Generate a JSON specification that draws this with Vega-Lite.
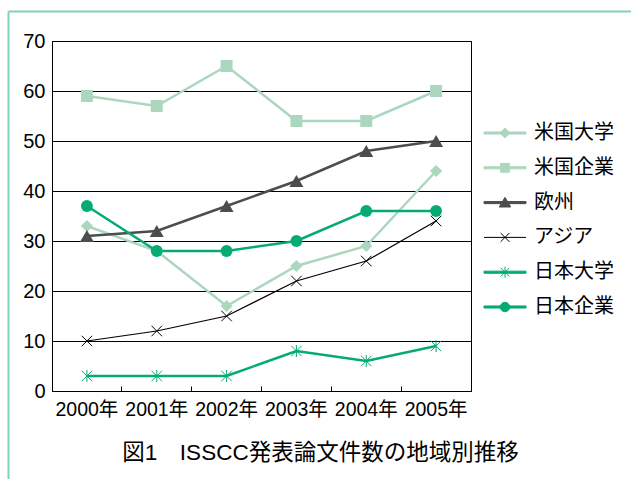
{
  "$schema": "https://vega.github.io/schema/vega-lite/v6.json",
  "width": 419,
  "height": 350,
  "autosize": {"type": "none"},
  "padding": {"left": 52, "top": 41, "right": 160, "bottom": 88},
  "background": "white",
  "config": {
    "view": {"stroke": "black", "strokeWidth": 1},
    "font": "'Liberation Sans', 'Noto Sans CJK JP'"
  },
  "data": {
    "values": [
      {"year": "2000年", "series": "米国大学", "value": 33},
      {"year": "2001年", "series": "米国大学", "value": 28},
      {"year": "2002年", "series": "米国大学", "value": 17},
      {"year": "2003年", "series": "米国大学", "value": 25},
      {"year": "2004年", "series": "米国大学", "value": 29},
      {"year": "2005年", "series": "米国大学", "value": 44},
      {"year": "2000年", "series": "米国企業", "value": 59},
      {"year": "2001年", "series": "米国企業", "value": 57},
      {"year": "2002年", "series": "米国企業", "value": 65},
      {"year": "2003年", "series": "米国企業", "value": 54},
      {"year": "2004年", "series": "米国企業", "value": 54},
      {"year": "2005年", "series": "米国企業", "value": 60},
      {"year": "2000年", "series": "欧州", "value": 31},
      {"year": "2001年", "series": "欧州", "value": 32},
      {"year": "2002年", "series": "欧州", "value": 37},
      {"year": "2003年", "series": "欧州", "value": 42},
      {"year": "2004年", "series": "欧州", "value": 48},
      {"year": "2005年", "series": "欧州", "value": 50},
      {"year": "2000年", "series": "アジア", "value": 10},
      {"year": "2001年", "series": "アジア", "value": 12},
      {"year": "2002年", "series": "アジア", "value": 15},
      {"year": "2003年", "series": "アジア", "value": 22},
      {"year": "2004年", "series": "アジア", "value": 26},
      {"year": "2005年", "series": "アジア", "value": 34},
      {"year": "2000年", "series": "日本大学", "value": 3},
      {"year": "2001年", "series": "日本大学", "value": 3},
      {"year": "2002年", "series": "日本大学", "value": 3},
      {"year": "2003年", "series": "日本大学", "value": 8},
      {"year": "2004年", "series": "日本大学", "value": 6},
      {"year": "2005年", "series": "日本大学", "value": 9},
      {"year": "2000年", "series": "日本企業", "value": 37},
      {"year": "2001年", "series": "日本企業", "value": 28},
      {"year": "2002年", "series": "日本企業", "value": 28},
      {"year": "2003年", "series": "日本企業", "value": 30},
      {"year": "2004年", "series": "日本企業", "value": 36},
      {"year": "2005年", "series": "日本企業", "value": 36}
    ]
  },
  "layer": [
    {
      "encoding": {
        "x": {
          "field": "year",
          "type": "nominal",
          "bandPosition": 0.5,
          "scale": {"type": "band", "paddingInner": 0, "paddingOuter": 0},
          "axis": {
            "bandPosition": 0,
            "tickSize": -5,
            "tickColor": "black",
            "domainColor": "black",
            "labelAngle": 0,
            "labelFontSize": 19.5,
            "labelColor": "black",
            "labelPadding": 14,
            "grid": false,
            "title": "図1　ISSCC発表論文件数の地域別推移",
            "titleFontSize": 22.5,
            "titleFontWeight": "normal",
            "titleColor": "black",
            "titleX": 268,
            "titleY": 68,
            "titleAlign": "center",
            "titleBaseline": "alphabetic"
          }
        },
        "y": {
          "field": "value",
          "type": "quantitative",
          "scale": {"domain": [0, 70], "nice": false},
          "axis": {
            "values": [0, 10, 20, 30, 40, 50, 60, 70],
            "grid": true,
            "gridColor": "black",
            "gridWidth": 1,
            "ticks": false,
            "domainColor": "black",
            "labelFontSize": 20,
            "labelColor": "black",
            "labelPadding": 7,
            "title": null
          }
        },
        "color": {
          "field": "series",
          "type": "nominal",
          "scale": {
            "domain": ["米国大学", "米国企業", "欧州", "アジア", "日本大学", "日本企業"],
            "range": ["#ABD7BF", "#ABD7BF", "#4D4D4D", "#000000", "#05AA74", "#05AA74"]
          },
          "legend": {
            "orient": "none",
            "legendX": 442,
            "legendY": 81,
            "title": null,
            "padding": 0,
            "symbolSize": 441,
            "symbolStrokeWidth": 1,
            "labelOffset": 18,
            "rowPadding": 13.8,
            "labelFont": "'Noto Sans CJK JP'",
            "labelFontSize": 20,
            "labelColor": "black",
            "labelLimit": 200,
            "encode": {
              "symbols": {
                "update": {
                  "shape": {"signal": "['M-2,-0.1H2V0.1H-2ZM0,-0.48L0.48,0L0,0.48L-0.48,0Z', 'M-2,-0.1H2V0.1H-2ZM-0.42,-0.42H0.42V0.42H-0.42Z', 'M-2,-0.1H2V0.1H-2ZM0,-0.5L0.55,0.42L-0.55,0.42Z', 'M-2,0H2M-0.42,-0.42L0.42,0.42M-0.42,0.42L0.42,-0.42', 'M-2,-0.1H2V0.1H-2ZM-0.42,-0.42L0.42,0.42M-0.42,0.42L0.42,-0.42M0,-0.52V0.52', 'M-2,-0.1H2V0.1H-2ZM-0.45,0A0.45,0.45 0 1,1 0.45,0A0.45,0.45 0 1,1 -0.45,0Z'][indexof(['米国大学', '米国企業', '欧州', 'アジア', '日本大学', '日本企業'], datum.value)]"},
                  "fill": {"scale": "color", "field": "value"},
                  "stroke": {"scale": "color", "field": "value"},
                  "strokeWidth": {"value": 1},
                  "size": {"value": 441},
                  "opacity": {"value": 1}
                }
              }
            }
          }
        }
      },
      "layer": [
        {
          "mark": {"type": "line"},
          "encoding": {
            "strokeWidth": {
              "condition": {"test": "datum.series === 'アジア'", "value": 1.2},
              "value": 2.5
            }
          }
        },
        {
          "transform": [{"filter": {"field": "series", "oneOf": ["米国大学", "米国企業", "欧州", "日本企業"]}}],
          "mark": {"type": "point", "filled": true, "opacity": 1},
          "encoding": {
            "shape": {
              "condition": [
                {"test": "datum.series === '米国大学'", "value": "diamond"},
                {"test": "datum.series === '米国企業'", "value": "square"},
                {"test": "datum.series === '欧州'", "value": "triangle-up"}
              ],
              "value": "circle"
            },
            "size": {
              "condition": [
                {"test": "datum.series === '欧州'", "value": 196},
                {"test": "datum.series === '米国企業'", "value": 144},
                {"test": "datum.series === '米国大学'", "value": 150}
              ],
              "value": 140
            }
          }
        },
        {
          "transform": [{"filter": {"field": "series", "oneOf": ["アジア", "日本大学"]}}],
          "mark": {"type": "point", "filled": false, "opacity": 1, "strokeWidth": 1, "size": 110},
          "encoding": {
            "shape": {
              "condition": {"test": "datum.series === 'アジア'", "value": "M-1,-1L1,1M-1,1L1,-1"},
              "value": "M-1,-1L1,1M-1,1L1,-1M0,-1.15V1.15"
            }
          }
        }
      ]
    },
    {
      "mark": {"type": "point", "opacity": 0},
      "encoding": {
        "x": {
          "field": "value",
          "type": "quantitative",
          "scale": {"domain": [0, 1], "range": [-44, 700]},
          "axis": {"orient": "top", "offset": 30, "domainColor": "#7FD3B6", "domainWidth": 2, "labels": false, "ticks": false, "grid": false, "title": null}
        },
        "y": {
          "field": "value",
          "type": "quantitative",
          "scale": {"domain": [0, 1], "range": [540, -30]},
          "axis": {"orient": "left", "offset": 44, "domainColor": "#7FD3B6", "domainWidth": 2, "labels": false, "ticks": false, "grid": false, "title": null}
        }
      }
    }
  ],
  "resolve": {"scale": {"x": "independent", "y": "independent"}}
}
